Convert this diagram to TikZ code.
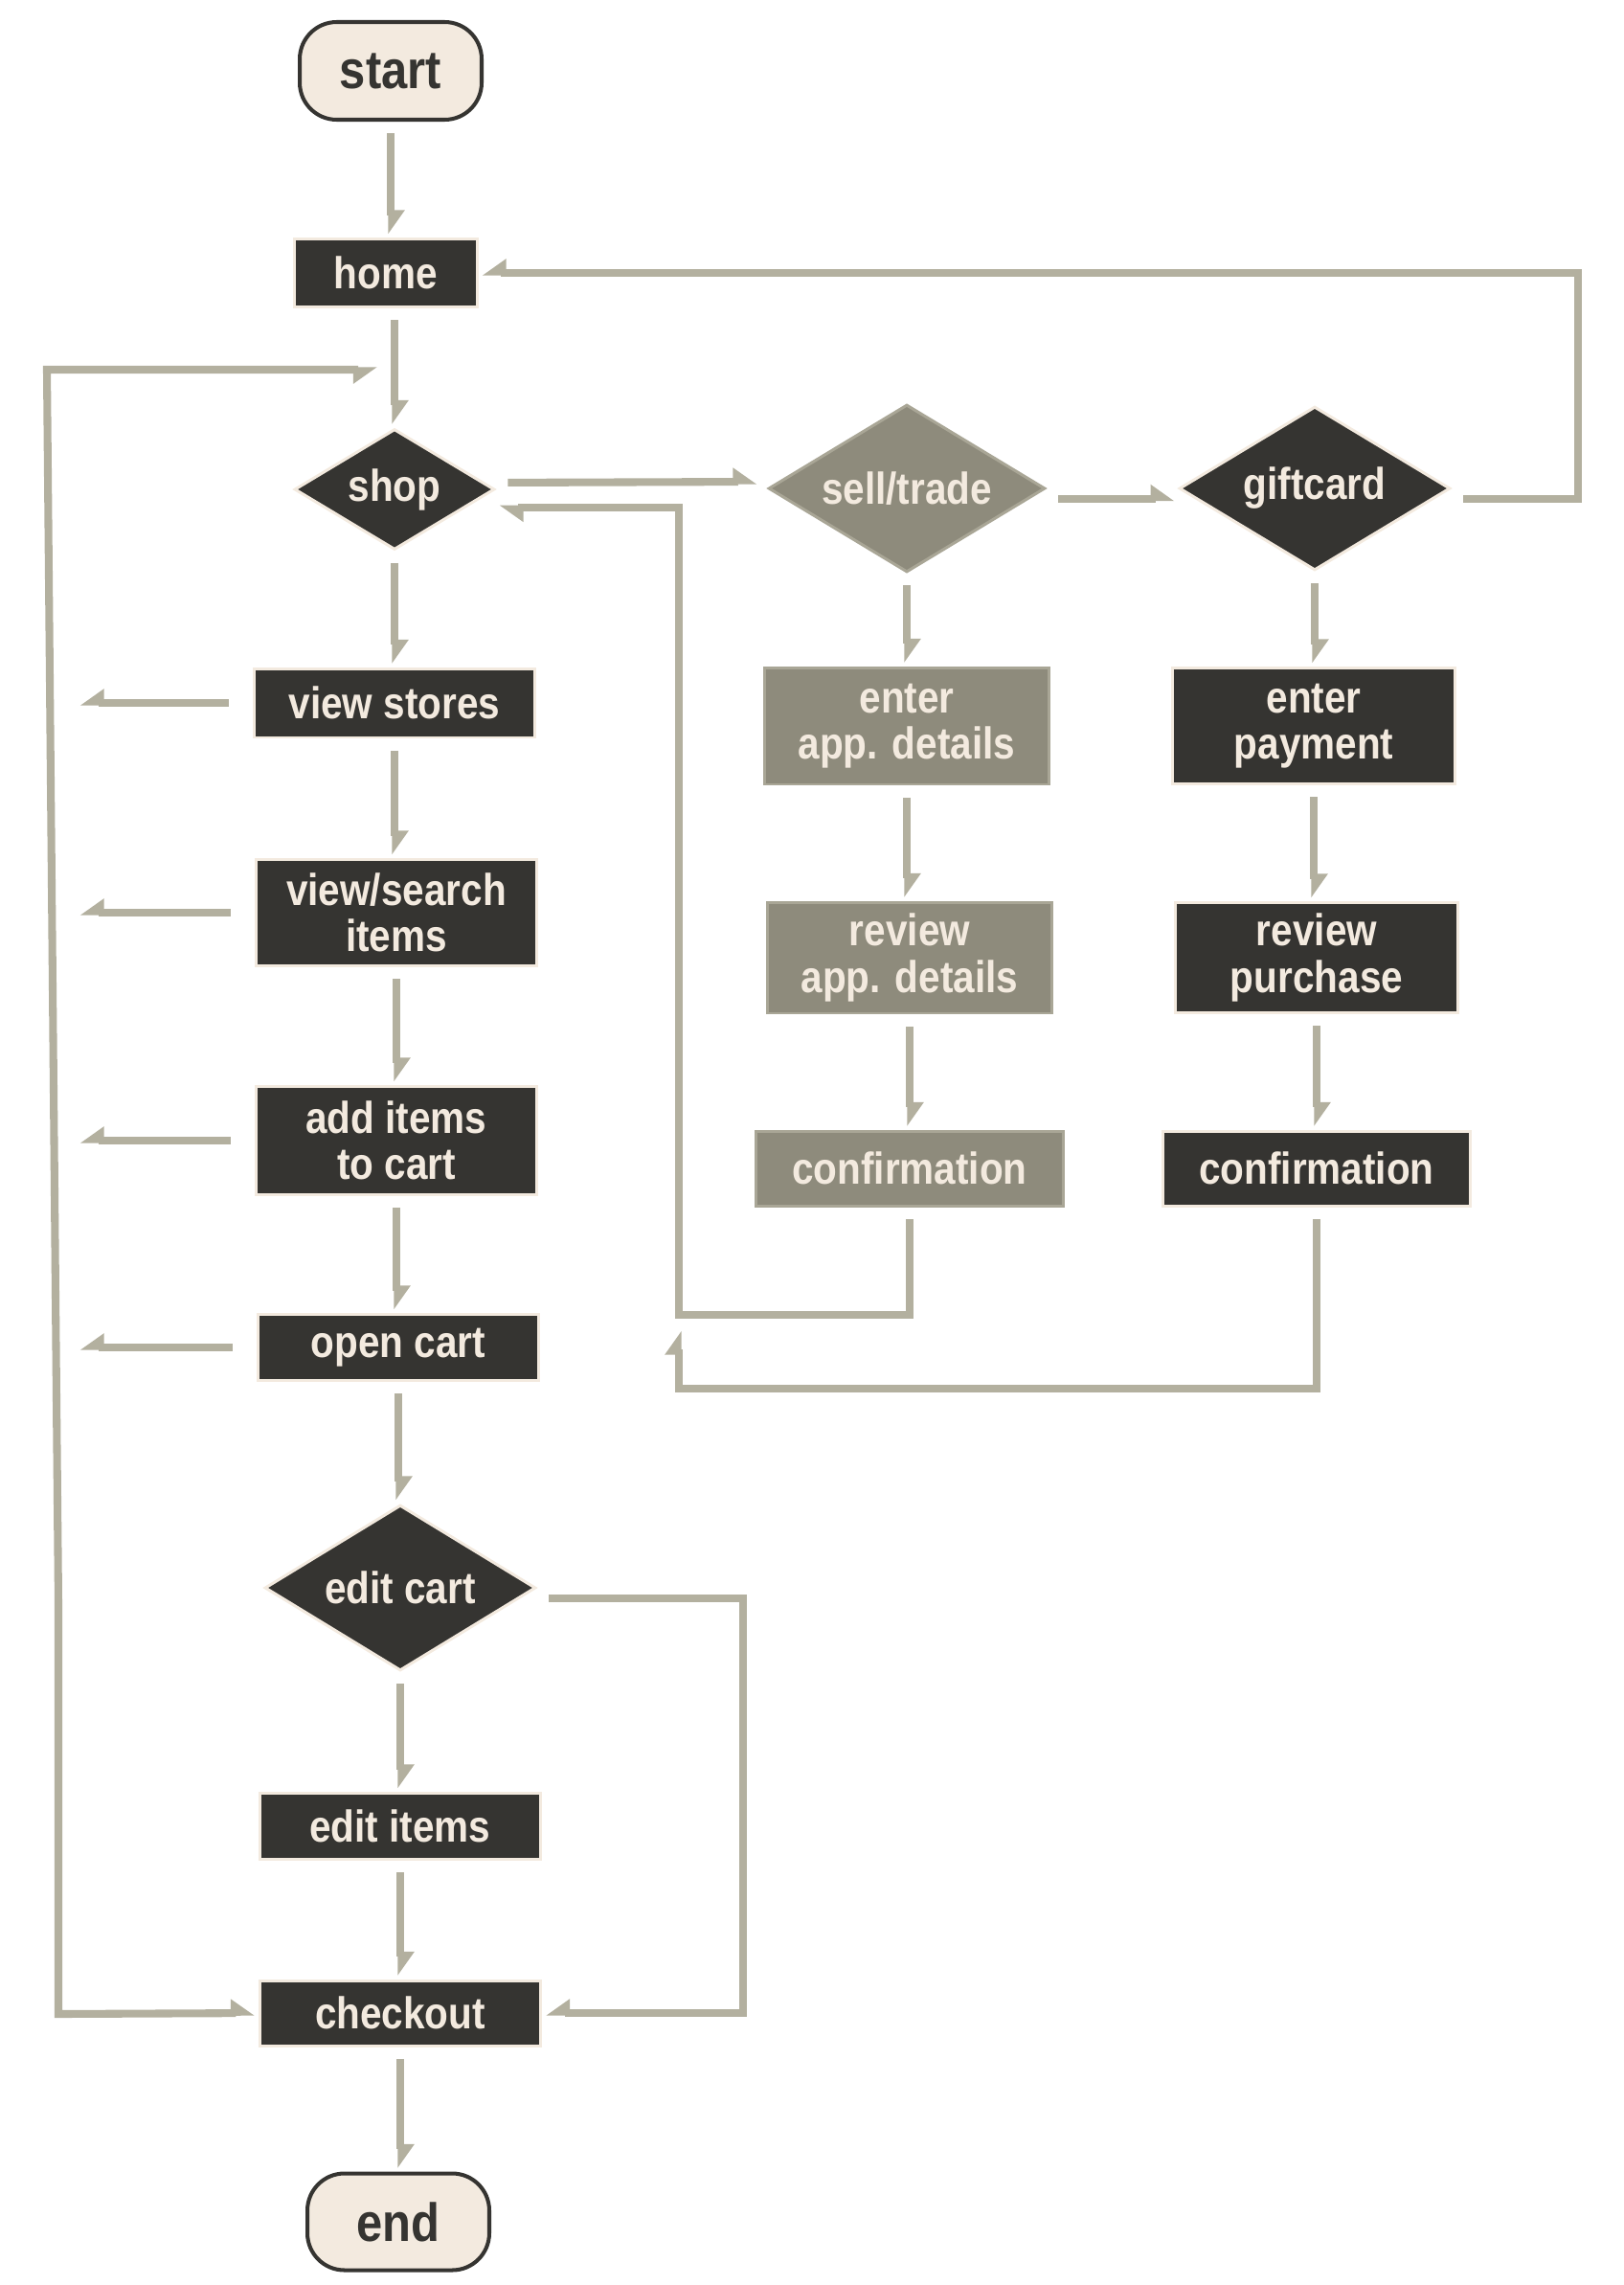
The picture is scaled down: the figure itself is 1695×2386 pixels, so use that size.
\documentclass[tikz,border=0pt]{standalone}
\usepackage{fontspec}
\setmainfont{Liberation Sans}[FakeStretch=0.87]
\usepackage{tikz}
\usetikzlibrary{shapes.geometric,arrows.meta}
\definecolor{ink}{HTML}{353431}
\definecolor{cream}{HTML}{F3EADF}
\definecolor{stone}{HTML}{8E8B7C}
\definecolor{stoneline}{HTML}{A9A696}
\definecolor{wire}{HTML}{B3B09F}
\tikzset{
  lbl/.style={font=\fontsize{26.5}{27.5}\selectfont\bfseries,text=cream,align=center,inner sep=0},
  stepbox/.style={lbl,draw=cream,line width=1.7pt,fill=ink,minimum width=5.88cm},
  graybox/.style={stepbox,draw=stoneline,fill=stone},
  decide/.style={lbl,diamond,draw=cream,line width=1.7pt,fill=ink},
  graydecide/.style={decide,draw=stoneline,fill=stone},
  terminal/.style={draw=ink,line width=2.3pt,fill=cream,rounded corners=22pt,text=ink,
    font=\fontsize{32}{34}\selectfont\bfseries,minimum width=3.8cm,minimum height=2.04cm},
  tipl/.tip={Triangle[harpoon,length=12pt,width=16pt]},
  tipr/.tip={Triangle[harpoon,swap,length=12pt,width=16pt]},
  flow/.style={draw=wire,line width=4.6pt,shorten <=7pt,shorten >=2pt,-tipl},
  flowr/.style={flow,-tipr},
}
\newcommand{\vlink}[2]{% straight down from #1 to #2
  \draw[flow] (#1.south) -- (#1.south |- #2.north);}

\begin{document}
\begin{tikzpicture}[x=0.02cm,y=-0.02cm]
  \useasboundingbox (0,0) rectangle (1695,2386);
  % main column
  \node[terminal] (start) at (408,74) {start};
  \node[stepbox,minimum width=3.82cm,minimum height=1.42cm] (home) at (403,285) {home};
  \node[decide,minimum width=4.18cm,minimum height=2.52cm,aspect=1.66] (shop) at (412,511) {shop};
  \node[stepbox,minimum height=1.44cm] (stores) at (412,734) {view stores};
  \node[stepbox,minimum height=2.22cm] (search) at (414,953) {view/search\\items};
  \node[stepbox,minimum height=2.26cm] (add) at (414,1191) {add items\\to cart};
  \node[stepbox,minimum height=1.38cm] (cart) at (416,1407) {open cart};
  \node[decide,minimum width=5.66cm,minimum height=3.46cm,aspect=1.64] (editcart) at (418,1658) {edit cart};
  \node[stepbox,minimum height=1.38cm] (items) at (418,1907) {edit items};
  \node[stepbox,minimum height=1.36cm] (checkout) at (418,2102) {checkout};
  \node[terminal,minimum height=2.02cm] (end) at (416,2320) {end};
  % sell/trade column
  \node[graydecide,minimum width=5.78cm,minimum height=3.5cm,aspect=1.65] (sell) at (947,510) {sell/trade};
  \node[graybox,minimum width=5.96cm,minimum height=2.44cm] (appin) at (947,758) {enter\\app. details};
  \node[graybox,minimum width=5.96cm,minimum height=2.32cm] (apprev) at (950,1000) {review\\app. details};
  \node[graybox,minimum width=6.42cm,minimum height=1.56cm] (sconf) at (950,1220) {confirmation};
  % giftcard column
  \node[decide,minimum width=5.66cm,minimum height=3.42cm,aspect=1.67] (gift) at (1373,510) {giftcard};
  \node[stepbox,minimum width=5.9cm,minimum height=2.42cm] (payin) at (1372,758) {enter\\payment};
  \node[stepbox,minimum width=5.9cm,minimum height=2.3cm] (payrev) at (1375,1000) {review\\purchase};
  \node[stepbox,minimum width=6.42cm,minimum height=1.56cm] (gconf) at (1375,1220) {confirmation};
  % loop corners
  \coordinate (shopback) at (394,386);
  \coordinate (lt) at (49,386);
  \coordinate (lm) at (61,1674);
  \coordinate (lb) at (61,2103);
  \coordinate (lout) at (80,0);
  \coordinate (loopr) at (1648,400);
  \coordinate (sret) at (709,1373);
  \coordinate (gbot) at (709,1450);
  \coordinate (gret) at (709,1386);
  \coordinate (cartloop) at (776,1800);
  % straight links
  \vlink{start}{home}
  \draw[flow] (shop.north |- home.south) -- (shop.north);
  \vlink{shop}{stores}
  \vlink{stores}{search}
  \vlink{search}{add}
  \vlink{add}{cart}
  \vlink{cart}{editcart}
  \vlink{editcart}{items}
  \vlink{items}{checkout}
  \vlink{checkout}{end}
  \vlink{sell}{appin}
  \vlink{appin}{apprev}
  \vlink{apprev}{sconf}
  \vlink{gift}{payin}
  \vlink{payin}{payrev}
  \vlink{payrev}{gconf}
  % side steps
  \foreach \n in {stores,search,add,cart}
    \draw[flowr,shorten <=14pt] (\n.west) -- (\n.west -| lout);
  \draw[flow,shorten >=6pt] ([yshift=4pt]shop.east) -- ([yshift=4pt]sell.west);
  \draw[flow] ([yshift=-6pt]sell.east) -- ([yshift=-6pt]gift.west);
  \draw[flowr] ([yshift=-6pt]gift.east) -| (loopr) |- (home.east);
  \draw[flow] (sconf.south) |- (sret) |- ([yshift=-11pt]shop.east);
  \draw[flow] (gconf.south) |- (gbot) -- (gret);
  \draw[flowr] ([yshift=-6pt]editcart.east) -| (cartloop) |- (checkout.east);
  % back to shop or on to checkout
  \draw[flow,shorten <=0pt,tipr-tipl] (shopback) -- (lt) -- (lm) -- (lb) -- (checkout.west);
\end{tikzpicture}
\end{document}
